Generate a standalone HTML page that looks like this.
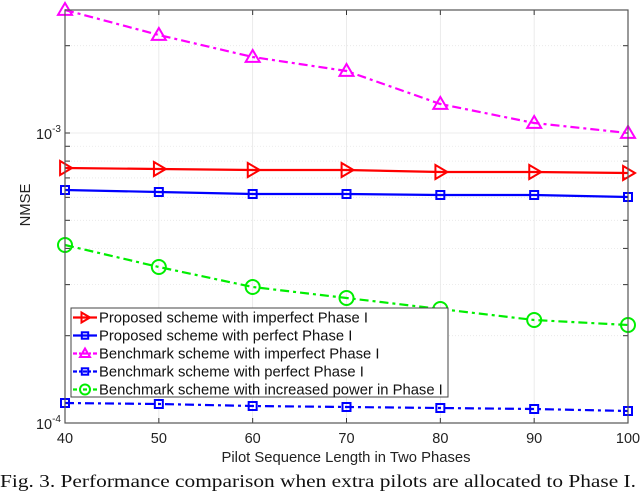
<!DOCTYPE html>
<html><head><meta charset="utf-8"><style>
body{margin:0;background:#fff;width:640px;height:492px;overflow:hidden}
svg{display:block;font-family:"Liberation Sans",sans-serif}
</style></head><body>
<svg width="640" height="492" viewBox="0 0 640 492">
<g id="grid" stroke="#e6e6e6" stroke-width="0.8"></g>
<g id="ticks" stroke="#333" stroke-width="1"></g>
<g id="series"></g>
<rect x="65" y="10" width="563" height="413" fill="none" stroke="#555" stroke-width="1.2"/>
<g font-size="14.5" fill="#222" text-anchor="middle" id="xl"></g>
<text x="61" y="139" font-size="14.5" text-anchor="end" fill="#222">10<tspan dy="-7" font-size="10">-3</tspan></text>
<text x="61" y="429" font-size="14.5" text-anchor="end" fill="#222">10<tspan dy="-7" font-size="10">-4</tspan></text>
<text x="346" y="462" font-size="14.8" text-anchor="middle" fill="#222">Pilot Sequence Length in Two Phases</text>
<text transform="translate(30,205) rotate(-90)" font-size="14.8" text-anchor="middle" fill="#222">NMSE</text>
<g>
<rect x="71" y="308" width="377" height="89" fill="#fff" stroke="#444" stroke-width="1"/>
<g id="leg" font-size="14.8" fill="#111"></g>
</g>
<text x="0" y="487" font-family="Liberation Serif,serif" font-size="18" fill="#111" textLength="636" lengthAdjust="spacingAndGlyphs">Fig. 3.  Performance comparison when extra pilots are allocated to Phase I.</text>
</svg>
<script>
const NS="http://www.w3.org/2000/svg";
function el(p,t,a){const e=document.createElementNS(NS,t);for(const k in a)e.setAttribute(k,a[k]);p.appendChild(e);return e;}
const X=i=>65+i*563/6, Y=v=>423-290*Math.log10(v/1e-4);
const g=document.getElementById('grid'),tk=document.getElementById('ticks');
for(let i=1;i<6;i++){el(g,'line',{x1:X(i),x2:X(i),y1:10,y2:423});}
for(let i=0;i<=6;i++){el(tk,'line',{x1:X(i),x2:X(i),y1:423,y2:418});el(tk,'line',{x1:X(i),x2:X(i),y1:10,y2:15});
 el(document.getElementById('xl'),'text',{x:X(i),y:443}).textContent=40+10*i;}
[1e-4,2e-4,3e-4,4e-4,5e-4,6e-4,7e-4,8e-4,9e-4,1e-3,2e-3].forEach(v=>{const y=Y(v);
 if(v!=1e-4){el(g,'line',{x1:65,x2:628,y1:y,y2:y,'stroke-dasharray':(v==1e-3?'':'1 2')});}
 el(tk,'line',{x1:65,x2:70,y1:y,y2:y});el(tk,'line',{x1:628,x2:623,y1:y,y2:y});});
const S=[
 {c:'#ff0000',d:'',m:'tri-r',y:[168,169,170,170,172,172,173]},
 {c:'#0000ff',d:'',m:'sq',y:[190,192,194,194,195,195,197]},
 {c:'#ff00ff',d:'9 4 3 4',m:'tri',y:[10,35,57,71,104,123,133]},
 {c:'#0000ff',d:'9 4 3 4',m:'sq',y:[403,404,406,407,408,409,411]},
 {c:'#00ee00',d:'9 4 3 4',m:'o',y:[245,267,287,298,309,320,325]}];
function mk(p,m,x,y,c,r){
 const a={fill:'none',stroke:c,'stroke-width':2};
 if(m=='sq')el(p,'rect',Object.assign({x:x-r*0.8,y:y-r*0.8,width:r*1.6,height:r*1.6},a));
 else if(m=='o')el(p,'circle',Object.assign({cx:x,cy:y,r:r},a));
 else if(m=='tri')el(p,'polygon',Object.assign({points:`${x},${y-r} ${x-r},${y+r*0.7} ${x+r},${y+r*0.7}`},a));
 else el(p,'polygon',Object.assign({points:`${x+r},${y} ${x-r*0.7},${y-r} ${x-r*0.7},${y+r}`},a));}
const sg=document.getElementById('series');
S.forEach(s=>{el(sg,'polyline',{points:s.y.map((y,i)=>X(i)+','+y).join(' '),fill:'none',stroke:s.c,'stroke-width':2.2,'stroke-dasharray':s.d});
 s.y.forEach((y,i)=>mk(sg,s.m,X(i),y,s.c,s.m=='sq'?5:7));});
const L=['Proposed scheme with imperfect Phase I','Proposed scheme with perfect Phase I','Benchmark scheme with imperfect Phase I','Benchmark scheme with perfect Phase I','Benchmark scheme with increased power in Phase I'];
const lg=document.getElementById('leg');
L.forEach((t,i)=>{const y=317.5+i*18;const s=S[i];
 el(lg,'line',{x1:73,x2:97,y1:y,y2:y,stroke:s.c,'stroke-width':2.2,'stroke-dasharray':s.d?'4 2 2 2':''});
 mk(lg,s.m,85,y,s.c,s.m=='sq'?4:5);
 el(lg,'text',{x:99,y:y+5}).textContent=t;});
</script>
</body></html>
